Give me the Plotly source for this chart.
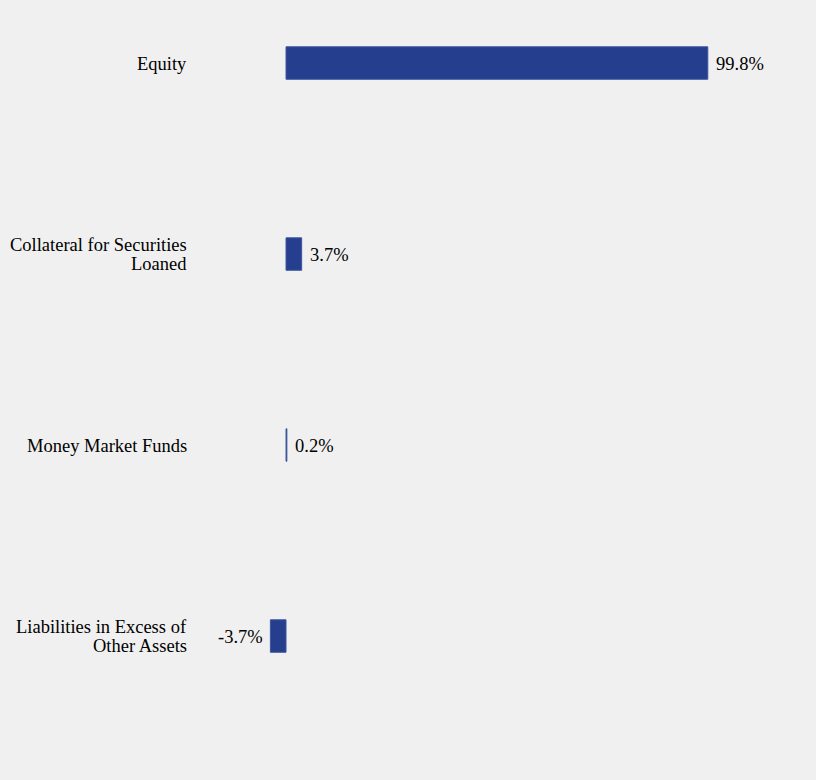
import plotly.graph_objects as go

categories = ["Equity", "Collateral for Securities\nLoaned", "Money Market Funds", "Liabilities in Excess of\nOther Assets"]
values = [99.8, 3.7, 0.2, -3.7]
labels = ["99.8%", "3.7%", "0.2%", "-3.7%"]

FONT = dict(family="Liberation Serif", size=18.5, color="#000")

fig = go.Figure(go.Bar(
    x=values, y=categories, orientation="h",
    marker=dict(color="#253f8e", line=dict(color="#3d56a0", width=1)),
    width=0.17,
))

annotations = []
for cat, v, lab in zip(categories, values, labels):
    lines = cat.split("\n")
    n = len(lines)
    for i, ln in enumerate(lines):
        annotations.append(dict(
            x=0, xref="paper", y=cat, yref="y", text=ln, showarrow=False,
            xanchor="right", yanchor="middle", xshift=-7,
            yshift=(n - 1) * 9.5 - i * 19 - 0.5, font=FONT,
        ))
    annotations.append(dict(
        x=v, xref="x", y=cat, yref="y", text=lab, showarrow=False,
        xanchor="left" if v >= 0 else "right", yanchor="middle",
        xshift=6 if v >= 0 else -5, yshift=-0.5, font=FONT,
    ))

fig.update_layout(
    width=816, height=780,
    paper_bgcolor="#f0f0f0", plot_bgcolor="#f0f0f0",
    margin=dict(l=196, r=0, t=0, b=16),
    font=FONT,
    showlegend=False,
    annotations=annotations,
    xaxis=dict(range=[-21.3, 125.4], visible=False, showgrid=False, zeroline=False),
    yaxis=dict(range=[3.67, -0.33], showgrid=False, zeroline=False, ticks="", showline=False,
               showticklabels=False, type="category"),
)
fig.write_html("out.html")
